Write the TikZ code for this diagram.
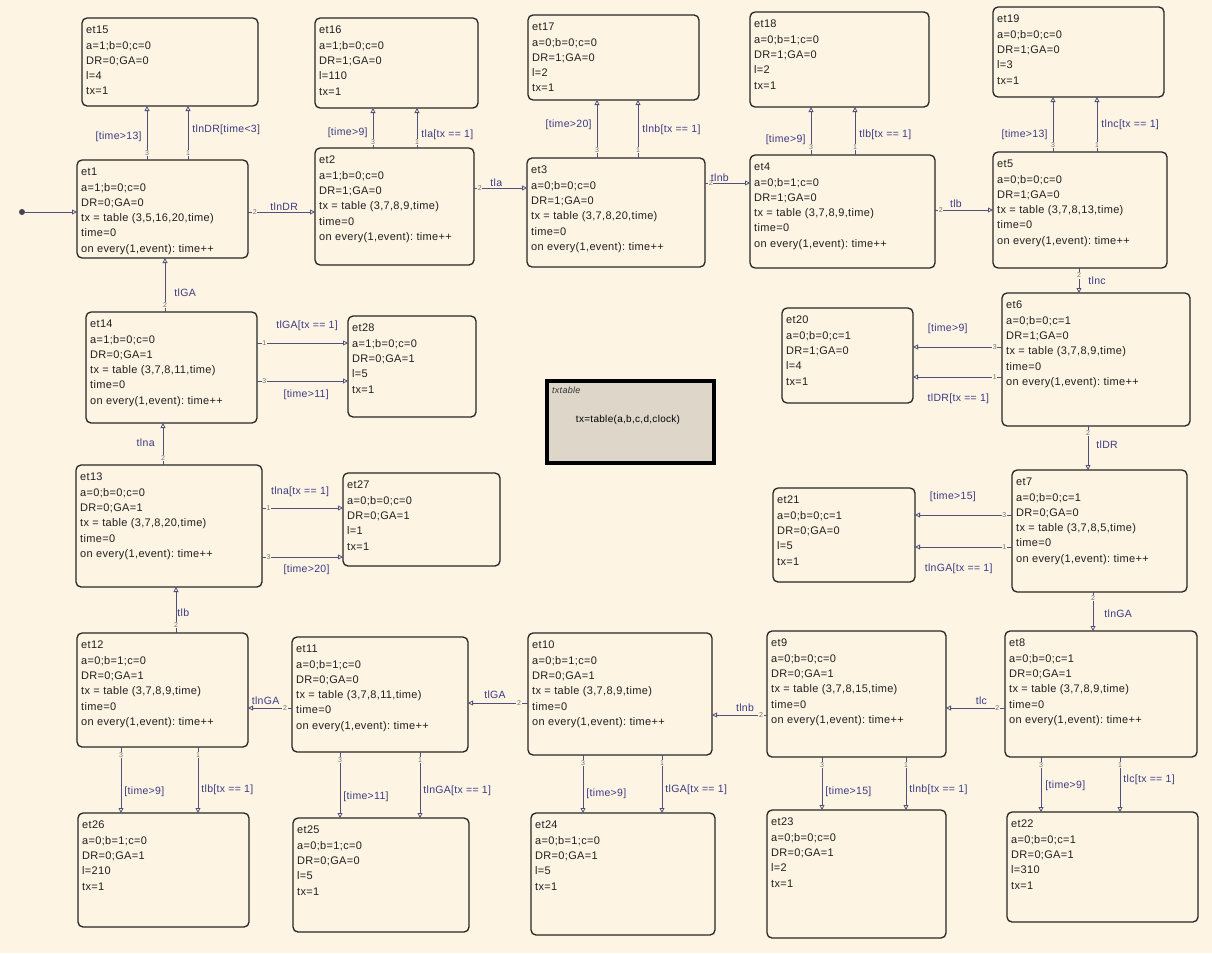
\documentclass[tikz,border=0pt]{standalone}
\usepackage{fontspec}
\setmainfont{Liberation Sans}[LetterSpace=3]
\usetikzlibrary{arrows.meta}
\definecolor{bg}{HTML}{FDF4E3}
\definecolor{boxc}{HTML}{262626}
\definecolor{trc}{HTML}{50507A}
\definecolor{lblc}{HTML}{3A3A85}
\definecolor{numc}{HTML}{707070}
\definecolor{tabfill}{HTML}{DDD6C9}
\tikzset{
  stbox/.style={draw=boxc, line width=1.3pt, rounded corners=5pt, inner sep=0pt, outer sep=0pt, rectangle},
  sttext/.style={anchor=north west, align=left, inner sep=0pt, text=black!88, font=\frenchspacing\fontsize{11}{15.3}\selectfont},
  trans/.style={draw=trc, line width=0.8pt, -{Triangle[open,length=5pt,width=5pt]}},
  tlbl/.style={text=lblc, font=\frenchspacing\fontsize{10.5}{10.5}\selectfont, inner sep=1pt},
  tnum/.style={text=numc, font=\fontsize{7}{7}\selectfont, inner sep=0.6pt, fill=bg},
}
\newcommand\mkstate[6]{%
  \node[stbox, minimum width={(#4-#2)*1pt}, minimum height={(#5-#3)*1pt}] (#1) at ({(#2+#4)/2},{(#3+#5)/2}) {};
  \node[sttext] (#1-t) at (#2+4,#3+8) {#6};
}
\begin{document}
\begin{tikzpicture}[x=1pt,y=-1pt]
\fill[bg] (0,0) rectangle (1212,953);
\useasboundingbox (0,0) rectangle (1212,953);

% top row
\mkstate{et15}{82}{18}{258}{106}{et15\\a=1;b=0;c=0\\DR=0;GA=0\\l=4\\tx=1}
\mkstate{et16}{315}{18}{478}{108}{et16\\a=1;b=0;c=0\\DR=1;GA=0\\l=110\\tx=1}
\mkstate{et17}{528}{15}{699}{100}{et17\\a=0;b=0;c=0\\DR=1;GA=0\\l=2\\tx=1}
\mkstate{et18}{750}{12}{929}{107}{et18\\a=0;b=1;c=0\\DR=1;GA=0\\l=2\\tx=1}
\mkstate{et19}{993}{7}{1164}{97}{et19\\a=0;b=0;c=0\\DR=1;GA=0\\l=3\\tx=1}

\mkstate{et1}{77}{160}{248}{258}{et1\\a=1;b=0;c=0\\DR=0;GA=0\\tx = table (3,5,16,20,time)\\time=0\\on every(1,event): time++}
\mkstate{et2}{315}{148}{474}{265}{et2\\a=1;b=0;c=0\\DR=1;GA=0\\tx = table (3,7,8,9,time)\\time=0\\on every(1,event): time++}
\mkstate{et3}{527}{158}{705}{267}{et3\\a=0;b=0;c=0\\DR=1;GA=0\\tx = table (3,7,8,20,time)\\time=0\\on every(1,event): time++}
\mkstate{et4}{750}{155}{935}{268}{et4\\a=0;b=1;c=0\\DR=1;GA=0\\tx = table (3,7,8,9,time)\\time=0\\on every(1,event): time++}
\mkstate{et5}{993}{152}{1167}{268}{et5\\a=0;b=0;c=0\\DR=1;GA=0\\tx = table (3,7,8,13,time)\\time=0\\on every(1,event): time++}

% right column
\mkstate{et6}{1002}{293}{1190}{426}{et6\\a=0;b=0;c=1\\DR=1;GA=0\\tx = table (3,7,8,9,time)\\time=0\\on every(1,event): time++}
\mkstate{et20}{782}{308}{913}{403}{et20\\a=0;b=0;c=1\\DR=1;GA=0\\l=4\\tx=1}
\mkstate{et7}{1012}{470}{1187}{592}{et7\\a=0;b=0;c=1\\DR=0;GA=0\\tx = table (3,7,8,5,time)\\time=0\\on every(1,event): time++}
\mkstate{et21}{773}{488}{915}{582}{et21\\a=0;b=0;c=1\\DR=0;GA=0\\l=5\\tx=1}

% bottom row
\mkstate{et8}{1005}{631}{1197}{757}{et8\\a=0;b=0;c=1\\DR=0;GA=1\\tx = table (3,7,8,9,time)\\time=0\\on every(1,event): time++}
\mkstate{et22}{1007}{812}{1198}{922}{et22\\a=0;b=0;c=1\\DR=0;GA=1\\l=310\\tx=1}
\mkstate{et9}{767}{631}{946}{757}{et9\\a=0;b=0;c=0\\DR=0;GA=1\\tx = table (3,7,8,15,time)\\time=0\\on every(1,event): time++}
\mkstate{et23}{767}{810}{946}{938}{et23\\a=0;b=0;c=0\\DR=0;GA=1\\l=2\\tx=1}
\mkstate{et10}{528}{633}{712}{755}{et10\\a=0;b=1;c=0\\DR=0;GA=1\\tx = table (3,7,8,9,time)\\time=0\\on every(1,event): time++}
\mkstate{et24}{531}{813}{715}{935}{et24\\a=0;b=1;c=0\\DR=0;GA=1\\l=5\\tx=1}
\mkstate{et11}{292}{637}{468}{752}{et11\\a=0;b=1;c=0\\DR=0;GA=0\\tx = table (3,7,8,11,time)\\time=0\\on every(1,event): time++}
\mkstate{et25}{293}{818}{469}{932}{et25\\a=0;b=1;c=0\\DR=0;GA=0\\l=5\\tx=1}
\mkstate{et12}{77}{633}{248}{747}{et12\\a=0;b=1;c=0\\DR=0;GA=1\\tx = table (3,7,8,9,time)\\time=0\\on every(1,event): time++}
\mkstate{et26}{78}{813}{249}{927}{et26\\a=0;b=1;c=0\\DR=0;GA=1\\l=210\\tx=1}

% left column
\mkstate{et14}{86}{312}{257}{423}{et14\\a=1;b=0;c=0\\DR=0;GA=1\\tx = table (3,7,8,11,time)\\time=0\\on every(1,event): time++}
\mkstate{et28}{348}{316}{476}{417}{et28\\a=1;b=0;c=0\\DR=0;GA=1\\l=5\\tx=1}
\mkstate{et13}{76}{465}{262}{587}{et13\\a=0;b=0;c=0\\DR=0;GA=1\\tx = table (3,7,8,20,time)\\time=0\\on every(1,event): time++}
\mkstate{et27}{343}{473}{500}{566}{et27\\a=0;b=0;c=0\\DR=0;GA=1\\l=1\\tx=1}

% txtable box
\node[draw=black, line width=4pt, fill=tabfill, inner sep=0pt, minimum width=167pt, minimum height=82pt] (txtable) at (630.5,422) {};
\node[anchor=north west, inner sep=0pt, font=\itshape\fontsize{9}{9}\selectfont, text=black!80] (txtitle) at (552,387) {txtable};
\node[inner sep=0pt, font=\fontsize{10}{10}\selectfont] (txbody) at (628,420) {tx=table(a,b,c,d,clock)};

% initial transition
\node[circle, fill=boxc!85, inner sep=0pt, minimum size=6pt] (init) at (22,212) {};
\draw[trans] (init) -- (et1.west |- init);

% et1
\draw[trans] (147,0 |- et1.north) -- node[tnum,pos=0.13]{3} node[tlbl,left=4pt,pos=0.43]{[time>13]} (147,0 |- et15.south);
\draw[trans] (188,0 |- et1.north) -- node[tnum,pos=0.13]{1} node[tlbl,right=3pt,pos=0.56]{tlnDR[time<3]} (188,0 |- et15.south);
\draw[trans] (et1.east |- 0,212) -- node[tnum,pos=0.1]{2} node[tlbl,above=0pt,pos=0.54]{tlnDR} (et2.west |- 0,212);

% et2
\draw[trans] (373,0 |- et2.north) -- node[tnum,pos=0.15]{3} node[tlbl,left=4pt,pos=0.38]{[time>9]} (373,0 |- et16.south);
\draw[trans] (417,0 |- et2.north) -- node[tnum,pos=0.15]{1} node[tlbl,right=3pt,pos=0.33]{tla[tx == 1]} (417,0 |- et16.south);
\draw[trans] (et2.east |- 0,188) -- node[tnum,pos=0.11]{2} node[tlbl,above=0pt,pos=0.42]{tla} (et3.west |- 0,188);

% et3
\draw[trans] (597,0 |- et3.north) -- node[tnum,pos=0.14]{3} node[tlbl,left=4pt,pos=0.57]{[time>20]} (597,0 |- et17.south);
\draw[trans] (638,0 |- et3.north) -- node[tnum,pos=0.14]{1} node[tlbl,right=3pt,pos=0.48]{tlnb[tx == 1]} (638,0 |- et17.south);
\draw[trans] (et3.east |- 0,183) -- node[tnum,pos=0.13]{2} node[tlbl,above=0pt,pos=0.33]{tlnb} (et4.west |- 0,183);

% et4
\draw[trans] (811,0 |- et4.north) -- node[tnum,pos=0.17]{3} node[tlbl,left=4pt,pos=0.31]{[time>9]} (811,0 |- et18.south);
\draw[trans] (855,0 |- et4.north) -- node[tnum,pos=0.17]{1} node[tlbl,right=3pt,pos=0.42]{tlb[tx == 1]} (855,0 |- et18.south);
\draw[trans] (et4.east |- 0,210) -- node[tnum,pos=0.1]{2} node[tlbl,above=1pt,pos=0.36]{tlb} (et5.west |- 0,210);

% et5
\draw[trans] (1053,0 |- et5.north) -- node[tnum,pos=0.13]{3} node[tlbl,left=4pt,pos=0.31]{[time>13]} (1053,0 |- et19.south);
\draw[trans] (1097,0 |- et5.north) -- node[tnum,pos=0.13]{1} node[tlbl,right=3pt,pos=0.49]{tlnc[tx == 1]} (1097,0 |- et19.south);
\draw[trans] (1079,0 |- et5.south) -- node[tnum,pos=0.3]{2} node[tlbl,right=8pt,pos=0.52]{tlnc} (1079,0 |- et6.north);

% et6
\draw[trans] (et6.west |- 0,347) -- node[tnum,pos=0.08]{3} node[tlbl,above=12pt,pos=0.61]{[time>9]} (et20.east |- 0,347);
\draw[trans] (et6.west |- 0,377) -- node[tnum,pos=0.08]{1} node[tlbl,below=15pt,pos=0.49]{tlDR[tx == 1]} (et20.east |- 0,377);
\draw[trans] (1088,0 |- et6.south) -- node[tnum,pos=0.16]{2} node[tlbl,right=7pt,pos=0.43]{tlDR} (1088,0 |- et7.north);

% et7
\draw[trans] (et7.west |- 0,515) -- node[tnum,pos=0.08]{3} node[tlbl,above=12pt,pos=0.61]{[time>15]} (et21.east |- 0,515);
\draw[trans] (et7.west |- 0,547) -- node[tnum,pos=0.08]{1} node[tlbl,below=15pt,pos=0.55]{tlnGA[tx == 1]} (et21.east |- 0,547);
\draw[trans] (1093,0 |- et7.south) -- node[tnum,pos=0.15]{2} node[tlbl,right=10pt,pos=0.56]{tlnGA} (1093,0 |- et8.north);

% et8
\draw[trans] (et8.west |- 0,708) -- node[tnum,pos=0.13]{2} node[tlbl,above=2pt,pos=0.4]{tlc} (et9.east |- 0,708);
\draw[trans] (1041,0 |- et8.south) -- node[tnum,pos=0.15]{3} node[tlbl,right=3pt,pos=0.53]{[time>9]} (1041,0 |- et22.north);
\draw[trans] (1120,0 |- et8.south) -- node[tnum,pos=0.15]{1} node[tlbl,right=2pt,pos=0.42]{tlc[tx == 1]} (1120,0 |- et22.north);

% et9
\draw[trans] (et9.west |- 0,715) -- node[tnum,pos=0.11]{2} node[tlbl,above=2pt,pos=0.4]{tlnb} (et10.east |- 0,715);
\draw[trans] (822,0 |- et9.south) -- node[tnum,pos=0.15]{3} node[tlbl,right=2pt,pos=0.66]{[time>15]} (822,0 |- et23.north);
\draw[trans] (906,0 |- et9.south) -- node[tnum,pos=0.15]{1} node[tlbl,right=2pt,pos=0.62]{tlnb[tx == 1]} (906,0 |- et23.north);

% et10
\draw[trans] (et10.west |- 0,703) -- node[tnum,pos=0.15]{2} node[tlbl,above=3pt,pos=0.55]{tlGA} (et11.east |- 0,703);
\draw[trans] (583,0 |- et10.south) -- node[tnum,pos=0.14]{3} node[tlbl,right=2pt,pos=0.66]{[time>9]} (583,0 |- et24.north);
\draw[trans] (662,0 |- et10.south) -- node[tnum,pos=0.14]{1} node[tlbl,right=2pt,pos=0.6]{tlGA[tx == 1]} (662,0 |- et24.north);

% et11
\draw[trans] (et11.west |- 0,708) -- node[tnum,pos=0.16]{2} node[tlbl,above=2pt,pos=0.6]{tlnGA} (et12.east |- 0,708);
\draw[trans] (340,0 |- et11.south) -- node[tnum,pos=0.12]{3} node[tlbl,right=2pt,pos=0.68]{[time>11]} (340,0 |- et25.north);
\draw[trans] (420,0 |- et11.south) -- node[tnum,pos=0.12]{1} node[tlbl,right=2pt,pos=0.58]{tlnGA[tx == 1]} (420,0 |- et25.north);

% et12
\draw[trans] (121,0 |- et12.south) -- node[tnum,pos=0.12]{3} node[tlbl,right=2pt,pos=0.68]{[time>9]} (121,0 |- et26.north);
\draw[trans] (198,0 |- et12.south) -- node[tnum,pos=0.12]{1} node[tlbl,right=2pt,pos=0.65]{tlb[tx == 1]} (198,0 |- et26.north);
\draw[trans] (176,0 |- et12.north) -- node[tnum,pos=0.17]{2} node[tlbl,right=0pt,pos=0.43]{tlb} (176,0 |- et13.south);

% et13
\draw[trans] (163,0 |- et13.north) -- node[tnum,pos=0.17]{2} node[tlbl,left=7pt,pos=0.52]{tlna} (163,0 |- et14.south);
\draw[trans] (et13.east |- 0,508) -- node[tnum,pos=0.08]{1} node[tlbl,above=10pt,pos=0.47]{tlna[tx == 1]} (et27.west |- 0,508);
\draw[trans] (et13.east |- 0,557) -- node[tnum,pos=0.08]{3} node[tlbl,below=6pt,pos=0.55]{[time>20]} (et27.west |- 0,557);

% et14
\draw[trans] (et14.east |- 0,343) -- node[tnum,pos=0.08]{1} node[tlbl,above=11pt,pos=0.55]{tlGA[tx == 1]} (et28.west |- 0,343);
\draw[trans] (et14.east |- 0,381) -- node[tnum,pos=0.08]{3} node[tlbl,below=7pt,pos=0.54]{[time>11]} (et28.west |- 0,381);
\draw[trans] (165,0 |- et14.north) -- node[tnum,pos=0.13]{2} node[tlbl,right=8pt,pos=0.35]{tlGA} (165,0 |- et1.south);
\end{tikzpicture}
\end{document}
